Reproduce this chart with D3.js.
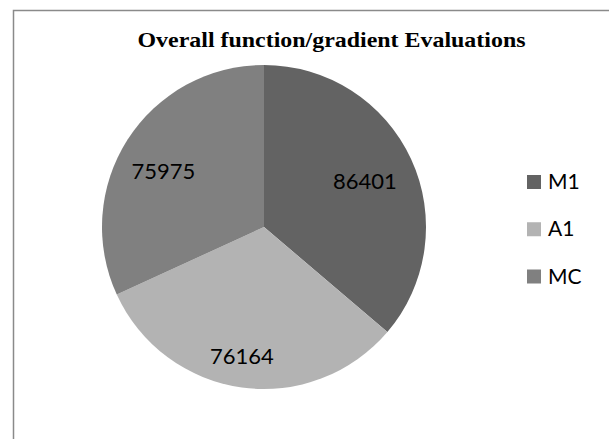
<!DOCTYPE html>
<html>
<head>
<meta charset="utf-8">
<script src="https://cdn.jsdelivr.net/npm/d3@7"></script>
<style>
html,body{margin:0;padding:0;background:#fff;}
svg{display:block;}
</style>
</head>
<body>
<svg id="chart" width="609" height="439"></svg>
<script>
const categories = ["M1", "A1", "MC"];
const values = [86401, 76164, 75975];
const colors = ["#636363", "#b3b3b3", "#808080"];
const titleText = "Overall function/gradient Evaluations";
// label nudges (px) relative to arc centroid
const labelNudge = [[1, 8], [-7, 28], [-8, 11]];

const svg = d3.select("#chart");

svg.append("rect")
  .attr("x", 13.5).attr("y", 10.5)
  .attr("width", 620).attr("height", 460)
  .attr("fill", "#fff").attr("stroke", "#8a8a8a").attr("stroke-width", 1.5);

svg.append("text")
  .attr("x", 331.5).attr("y", 47)
  .attr("text-anchor", "middle")
  .attr("font-family", "'Liberation Serif','Times New Roman',serif")
  .attr("font-weight", "bold")
  .attr("font-size", 22)
  .attr("textLength", 388)
  .attr("lengthAdjust", "spacingAndGlyphs")
  .attr("fill", "#000")
  .text(titleText);

const cx = 264, cy = 227, R = 162;
const data = categories.map((c, i) => ({cat: c, value: values[i], color: colors[i], i}));
const pie = d3.pie().sort(null).value(d => d.value);
const arcs = pie(data);
const arc = d3.arc().innerRadius(0).outerRadius(R);
const labelArc = d3.arc().innerRadius(R * 0.68).outerRadius(R * 0.68);

const g = svg.append("g").attr("transform", `translate(${cx},${cy})`);
g.selectAll("path").data(arcs).enter().append("path")
  .attr("d", arc)
  .attr("fill", d => d.data.color);

g.selectAll("text.lbl").data(arcs).enter().append("text")
  .attr("class", "lbl")
  .attr("x", d => labelArc.centroid(d)[0] + labelNudge[d.data.i][0])
  .attr("y", d => labelArc.centroid(d)[1] + labelNudge[d.data.i][1])
  .attr("text-anchor", "middle")
  .attr("font-family", "Lato, 'Open Sans', sans-serif")
  .attr("font-size", 22)
  .attr("fill", "#000")
  .text(d => d3.format("d")(d.data.value));

const legendY = d3.scalePoint().domain(categories).range([175, 269.5]);
const lg = svg.append("g");
lg.selectAll("rect").data(data).enter().append("rect")
  .attr("x", 527).attr("y", d => legendY(d.cat))
  .attr("width", 14).attr("height", 14)
  .attr("fill", d => d.color);
lg.selectAll("text").data(data).enter().append("text")
  .attr("x", 548).attr("y", d => legendY(d.cat) + 14)
  .attr("font-family", "Lato, 'Open Sans', sans-serif")
  .attr("font-size", 21)
  .attr("fill", "#000")
  .text(d => d.cat);
</script>
</body>
</html>
